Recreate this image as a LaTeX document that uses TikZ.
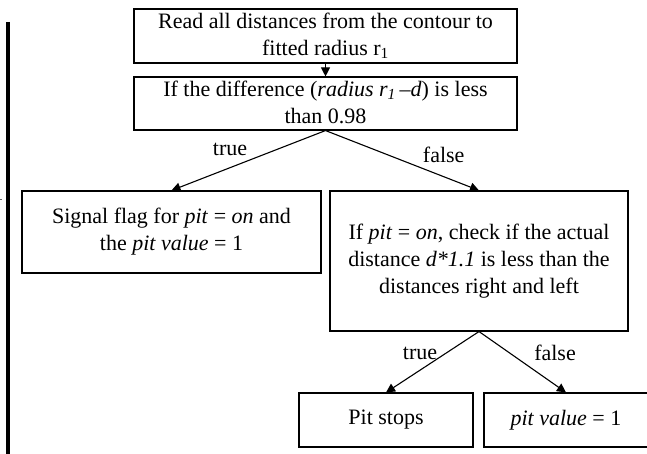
\documentclass[tikz,border=0pt]{standalone}
\usepackage{fontspec}
\setmainfont{Liberation Serif}
\usetikzlibrary{arrows.meta}

\begin{document}
\begin{tikzpicture}[x=1pt, y=-1pt,
		box_style/.style={rectangle, draw=black, line width=1.1pt, align=center, inner sep=0pt, font=\fontsize{22}{27}\selectfont},
		label_style/.style={inner sep=0pt, font=\fontsize{22}{27}\selectfont},
		edge_style/.style={draw=black, line width=1.1pt, -{Triangle[length=9pt,width=9pt]}}]
		
		\useasboundingbox (0,0) rectangle (647,454);
		\clip (0,0) rectangle (647,454);
		
		% margin bar on the left
		\draw[line width=4pt] (8,22) -- (8,454);
		\draw[line width=0.8pt, black!60] (0,199.5) -- (2,199.5);
		
		\node[box_style, minimum width=383pt, minimum height=54pt] (read) at (325.5,36)
			{Read all distances from the contour to\\fitted radius r\textsubscript{1}};
		\node[box_style, minimum width=383pt, minimum height=53pt, text depth=2pt] (diff) at (325.5,103.5)
			{If the difference (\textit{radius r\textsubscript{1}\,–d}) is less\\than 0.98};
		\node[box_style, minimum width=299pt, minimum height=82pt] (flag) at (171.5,232)
			{Signal flag for \textit{pit} = \textit{on} and\\the \textit{pit value} = 1};
		\node[box_style, minimum width=298pt, minimum height=140pt] (check) at (479,261)
			{If \textit{pit} = \textit{on}, check if the actual\\distance \textit{d*1.1} is less than the\\distances right and left};
		\node[box_style, minimum width=174pt, minimum height=54pt] (stops) at (386,420)
			{Pit stops};
		\node[box_style, minimum width=164pt, minimum height=54pt] (pval) at (566,420)
			{\textit{pit value} = 1};
		
		\draw[edge_style]  (read) -- (diff);
		\draw[edge_style]  (diff.south) -- node[label_style, pos=0.62, yshift=18pt]{true} (flag.north);
		\draw[edge_style]  (diff.south) -- node[label_style, pos=0.77, yshift=22pt]{false} (check.north);
		\draw[edge_style]  (check.south) -- node[label_style, pos=0.634, yshift=17pt]{true} (stops.north);
		\draw[edge_style]  (check.south) -- node[label_style, pos=0.874, yshift=32pt]{false} (pval.north);
\end{tikzpicture}
\end{document}
